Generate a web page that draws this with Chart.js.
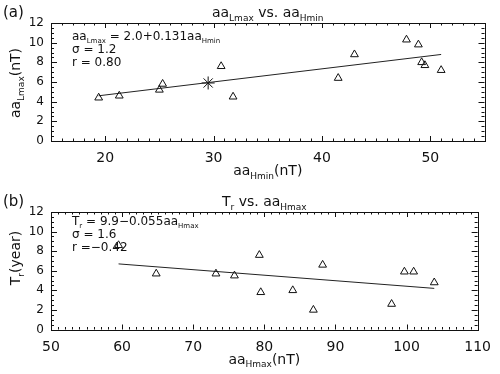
<!DOCTYPE html>
<html>
<head>
<meta charset="utf-8">
<script src="https://cdn.jsdelivr.net/npm/chart.js@4.4.0/dist/chart.umd.min.js"></script>
<style>
  html, body { margin: 0; padding: 0; background: #fff; }
  .panel { position: absolute; left: 0; width: 500px; height: 187px; }
</style>
</head>
<body>
<div class="panel" style="top:0"><canvas id="chartA" width="500" height="187"></canvas></div>
<div class="panel" style="top:187px"><canvas id="chartB" width="500" height="187"></canvas></div>
<script>
// panel (a): aa_Lmax vs aa_Hmin
const aaHmin = [19.4, 21.3, 25.0, 25.3, 30.7, 31.8, 41.5, 43.0, 47.8, 48.9, 49.2, 49.5, 51.0];
const aaLmax = [4.4, 4.6, 5.2, 5.8, 7.6, 4.5, 6.4, 8.8, 10.3, 9.8, 8.0, 7.7, 7.2];
const meanA = { x: 29.5, y: 5.9 };
const fitA = [{ x: 19.4, y: 4.6 }, { x: 51.0, y: 8.8 }];
const xTicksA = [20, 30, 40, 50];

// panel (b): Tr vs aa_Hmax
const aaHmax = [59.5, 64.8, 73.2, 75.8, 79.3, 79.5, 84.0, 86.9, 88.2, 97.9, 99.7, 101.0, 103.9];
const trYear = [8.6, 5.7, 5.7, 5.5, 7.6, 3.8, 4.0, 2.0, 6.6, 2.6, 5.9, 5.9, 4.8];
const fitB = [{ x: 59.5, y: 6.7 }, { x: 103.9, y: 4.2 }];
const xTicksB = [50, 60, 70, 80, 90, 100, 110];

const yTicks = [0, 2, 4, 6, 8, 10, 12];

const FONT = "'DejaVu Sans', sans-serif";
const INK = '#111';

// text with subscripts: parts = [[text, isSub], ...]
function richWidth(ctx, parts, size) {
    let w = 0;
    parts.forEach(([t, sub]) => {
        ctx.font = (sub ? Math.round(size * 0.62) : size) + 'px ' + FONT;
        w += ctx.measureText(t).width;
    });
    return w;
}
function drawRich(ctx, parts, x, y, size, align) {
    const w = richWidth(ctx, parts, size);
    let cx = align === 'center' ? x - w / 2 : x;
    ctx.textAlign = 'left';
    ctx.textBaseline = 'alphabetic';
    ctx.fillStyle = INK;
    parts.forEach(([t, sub]) => {
        ctx.font = (sub ? Math.round(size * 0.62) : size) + 'px ' + FONT;
        ctx.fillText(t, cx, sub ? y + size * 0.28 : y);
        cx += ctx.measureText(t).width;
    });
}

const idlFrame = {
    id: 'idlFrame',
    afterDraw(chart, args, opts) {
        const { ctx, chartArea: a, scales: { x, y } } = chart;
        ctx.save();
        ctx.strokeStyle = INK;
        ctx.lineWidth = 1;
        ctx.strokeRect(Math.round(a.left) + 0.5, Math.round(a.top) + 0.5,
            Math.round(a.right - a.left), Math.round(a.bottom - a.top));
        ctx.beginPath();
        // minor ticks every 1 on x, every 0.5 on y; majors at the labelled values
        for (let v = Math.ceil(x.min); v <= x.max; v++) {
            const px = Math.round(x.getPixelForValue(v)) + 0.5;
            const len = v % opts.xMajor === 0 ? 5 : 2.5;
            ctx.moveTo(px, a.bottom); ctx.lineTo(px, a.bottom - len);
            ctx.moveTo(px, a.top); ctx.lineTo(px, a.top + len);
        }
        for (let k = 0; k <= (y.max - y.min) * 2; k++) {
            const v = y.min + k / 2;
            const py = Math.round(y.getPixelForValue(v)) + 0.5;
            const len = k % 4 === 0 ? 6 : 3;
            ctx.moveTo(a.left, py); ctx.lineTo(a.left + len, py);
            ctx.moveTo(a.right, py); ctx.lineTo(a.right - len, py);
        }
        ctx.stroke();

        const mid = (a.left + a.right) / 2;
        drawRich(ctx, [[opts.panel, false]], 3, 17 + opts.dy, 15, 'left');
        drawRich(ctx, opts.title, mid, 17 + opts.dy, 14, 'center');
        drawRich(ctx, opts.xTitle, mid, a.bottom + 34, 14, 'center');
        opts.notes.forEach((n, i) => drawRich(ctx, n, 72, opts.noteY + i * 13, 12, 'left'));

        ctx.save();
        ctx.translate(20, opts.yTitleMid);
        ctx.rotate(-Math.PI / 2);
        drawRich(ctx, opts.yTitle, 0, 0, 14, 'center');
        ctx.restore();
        ctx.restore();
    }
};

function makeChart(id, pts, fit, mean, xr, xTicks, padTop, xH, deco) {
    const datasets = [
        {
            data: pts,
            pointStyle: 'triangle',
            pointRadius: 4.5,
            borderColor: INK,
            backgroundColor: 'rgba(0,0,0,0)',
            borderWidth: 1,
            showLine: false
        },
        {
            data: fit,
            showLine: true,
            borderColor: '#222',
            borderWidth: 1,
            pointRadius: 0
        }
    ];
    if (mean) {
        datasets.push({
            data: [mean],
            pointStyle: 'star',
            pointRadius: 6.5,
            borderColor: INK,
            borderWidth: 1,
            showLine: false
        });
    }
    return new Chart(document.getElementById(id), {
        type: 'scatter',
        data: { datasets },
        options: {
            responsive: false,
            animation: false,
            layout: { padding: { top: padTop, right: 15.5, left: 0, bottom: 0 } },
            plugins: { legend: { display: false }, tooltip: { enabled: false }, idlFrame: deco },
            scales: {
                x: {
                    type: 'linear', min: xr[0], max: xr[1],
                    grid: { display: false, drawTicks: false },
                    border: { display: false },
                    ticks: { color: INK, padding: 9, font: { family: FONT, size: 14 } },
                    afterBuildTicks: s => { s.ticks = xTicks.map(v => ({ value: v })); },
                    afterFit: s => { s.height = xH; }
                },
                y: {
                    type: 'linear', min: 0, max: 12,
                    grid: { display: false, drawTicks: false },
                    border: { display: false },
                    ticks: { color: INK, padding: 7, font: { family: FONT, size: 12 } },
                    afterBuildTicks: s => { s.ticks = yTicks.map(v => ({ value: v })); },
                    afterFit: s => { s.width = 51; }
                }
            }
        },
        plugins: [idlFrame]
    });
}

makeChart('chartA', aaHmin.map((v, i) => ({ x: v, y: aaLmax[i] })), fitA, meanA, [15, 55], xTicksA, 23, 46, {
    panel: '(a)', dy: 0,
    title: [['aa', false], ['Lmax', true], [' vs. aa', false], ['Hmin', true]],
    xTitle: [['aa', false], ['Hmin', true], ['(nT)', false]],
    yTitle: [['aa', false], ['Lmax', true], ['(nT)', false]],
    yTitleMid: 83,
    noteY: 40,
    notes: [
        [['aa', false], ['Lmax', true], [' = 2.0+0.131aa', false], ['Hmin', true]],
        [['σ = 1.2', false]],
        [['r = 0.80', false]]
    ],
    xMajor: 10
});

makeChart('chartB', aaHmax.map((v, i) => ({ x: v, y: trYear[i] })), fitB, null, [50, 110], xTicksB, 25, 44.5, {
    panel: '(b)', dy: 2,
    title: [['T', false], ['r', true], [' vs. aa', false], ['Hmax', true]],
    xTitle: [['aa', false], ['Hmax', true], ['(nT)', false]],
    yTitle: [['T', false], ['r', true], ['(year)', false]],
    yTitleMid: 71,
    noteY: 38,
    notes: [
        [['T', false], ['r', true], [' = 9.9−0.055aa', false], ['Hmax', true]],
        [['σ = 1.6', false]],
        [['r =−0.42', false]]
    ],
    xMajor: 10
});
</script>
</body>
</html>
